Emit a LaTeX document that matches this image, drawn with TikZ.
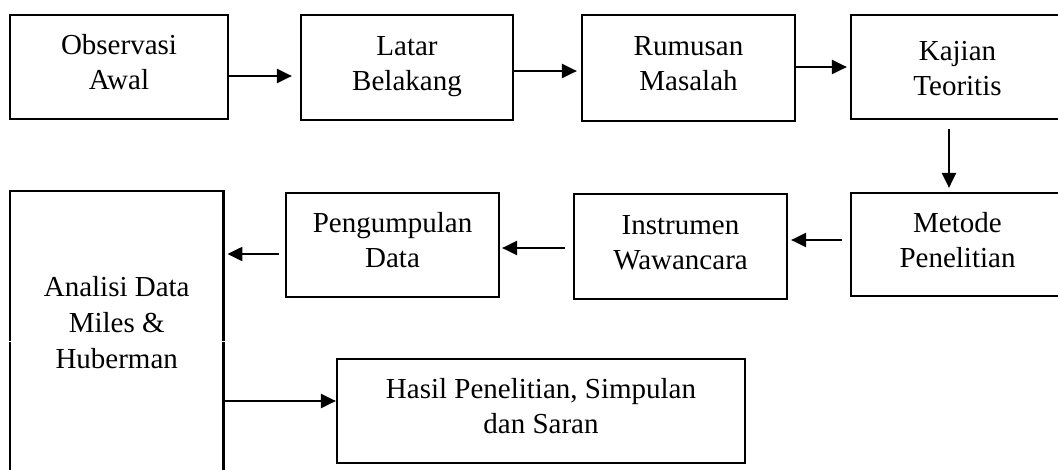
\documentclass[tikz,border=0pt]{standalone}
\usepackage{fontspec}
\setmainfont{Liberation Serif}
\usetikzlibrary{arrows.meta}
\newcommand\bx[1]{\rule{0pt}{20pt}#1\rule[-10pt]{0pt}{10pt}}
\newcommand\bxk[1]{\rule{0pt}{30pt}#1\rule[-9pt]{0pt}{9pt}}
\tikzset{
  boxline/.style={line width=2.2pt, line cap=rect},
  flowbox/.style={draw, line width=2.2pt, inner sep=0pt, align=center,
    font=\fontsize{29}{35}\selectfont},
  arr/.style={line width=2.2pt, -{Triangle[length=15pt,width=14pt]}},
}
\begin{document}
\begin{tikzpicture}[x=1pt,y=-1pt]
\useasboundingbox (0,0) rectangle (1058,469);
\clip (0,0) rectangle (1058,469);
\fill[white] (0,0) rectangle (1058,469);

% top row
\node[flowbox, minimum width=218pt, minimum height=104pt] (obs) at (119,67) {\bx{Observasi\\Awal}};
\node[flowbox, minimum width=212pt, minimum height=105pt] (lat) at (407,67.5) {\bx{Latar\\Belakang}};
\node[flowbox, minimum width=213pt, minimum height=106pt] (rum) at (688.5,68) {\bx{Rumusan\\Masalah}};
\node[flowbox, minimum width=213pt, minimum height=104pt] (kaj) at (957.5,67) {\bxk{Kajian\\Teoritis}};

% second row
\node[flowbox, minimum width=213pt, minimum height=103pt] (met) at (957.5,244.5) {\bx{Metode\\Penelitian}};
\node[flowbox, minimum width=213pt, minimum height=105pt] (ins) at (680.5,246.5) {\bx{Instrumen\\Wawancara}};
\node[flowbox, minimum width=213pt, minimum height=104pt] (pen) at (392.5,245) {\bx{Pengumpulan\\Data}};

% Analisi box (border drawn separately, with its small gap)
\node[draw=none, inner sep=0pt, minimum width=213pt, minimum height=370pt, anchor=north west] (ana) at (10,191) {};
\draw[boxline] (ana.west |- 0,339.5) -- (ana.north west) -- (ana.north east) -- (ana.east |- 0,339.5);
\draw[boxline] (ana.west |- 0,343) -- (ana.south west);
\draw[boxline] (ana.east |- 0,343) -- (ana.south east);
\node[inner sep=0pt, align=center, anchor=north, font=\fontsize{29}{36}\selectfont] (anat)
  at ([yshift=-85pt]ana.north) {\rule{0pt}{20pt}Analisi Data\\Miles \&\\Huberman};

% result box
\node[flowbox, minimum width=408pt, minimum height=104pt] (has) at (541,411) {\bx{Hasil Penelitian, Simpulan\\dan Saran}};

% connectors
\draw[arr] (obs.east |- 0,76) -- ([xshift=-8pt]lat.west |- 0,76);
\draw[arr] (lat.east |- 0,71) -- ([xshift=-4pt]rum.west |- 0,71);
\draw[arr] (rum.east |- 0,67) -- ([xshift=-3pt]kaj.west |- 0,67);
\draw[arr] ([yshift=-9pt]kaj.south -| 949,0) -- ([yshift=4pt]met.north -| 949,0);
\draw[arr] ([xshift=-8pt]met.west |- 0,240) -- ([xshift=3pt]ins.east |- 0,240);
\draw[arr] ([xshift=-8pt]ins.west |- 0,248) -- ([xshift=2pt]pen.east |- 0,248);
\draw[arr] ([xshift=-6pt]pen.west |- 0,254) -- ([xshift=4pt]ana.east |- 0,254);
\draw[arr] (ana.east |- 0,401) -- (has.west |- 0,401);
\end{tikzpicture}
\end{document}
